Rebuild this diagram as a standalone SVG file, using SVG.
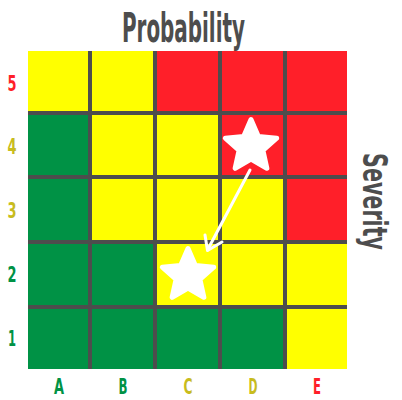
<svg xmlns="http://www.w3.org/2000/svg" width="402" height="400" viewBox="0 0 402 400">
<style>
.g{fill:#009245}.y{fill:#ffff00}.r{fill:#ff1f29}
.grid line{stroke:#4d4d4d;stroke-width:4}
.lbl{font-family:"DejaVu Sans Condensed","DejaVu Sans",sans-serif;font-weight:bold;font-size:22px;text-anchor:middle}
.ttl{font-family:"DejaVu Sans Condensed","DejaVu Sans",sans-serif;font-weight:bold;fill:#4d4d4d}
.tg{fill:#009245}.to{fill:#c8bc1e}.tr{fill:#ff1f29}
.star{fill:#fff;stroke:#fff;stroke-width:5;stroke-linejoin:round}
</style>
<defs>
<polygon id="star" class="star" points="0,-27 7.35,-10.11 25.68,-8.34 11.89,3.86 15.87,21.84 0,12.5 -15.87,21.84 -11.89,3.86 -25.68,-8.34 -7.35,-10.11"/>
</defs>
<rect width="402" height="400" fill="#fff"/>
<g id="matrix">
<g id="row5">
<rect class="y" x="28" y="51" width="62" height="62"/>
<rect class="y" x="90" y="51" width="65" height="62"/>
<rect class="r" x="155" y="51" width="65" height="62"/>
<rect class="r" x="220" y="51" width="65" height="62"/>
<rect class="r" x="285" y="51" width="62" height="62"/>
</g>
<g id="row4">
<rect class="g" x="28" y="113" width="62" height="64"/>
<rect class="y" x="90" y="113" width="65" height="64"/>
<rect class="y" x="155" y="113" width="65" height="64"/>
<rect class="r" x="220" y="113" width="65" height="64"/>
<rect class="r" x="285" y="113" width="62" height="64"/>
</g>
<g id="row3">
<rect class="g" x="28" y="177" width="62" height="65"/>
<rect class="y" x="90" y="177" width="65" height="65"/>
<rect class="y" x="155" y="177" width="65" height="65"/>
<rect class="y" x="220" y="177" width="65" height="65"/>
<rect class="r" x="285" y="177" width="62" height="65"/>
</g>
<g id="row2">
<rect class="g" x="28" y="242" width="62" height="65"/>
<rect class="g" x="90" y="242" width="65" height="65"/>
<rect class="y" x="155" y="242" width="65" height="65"/>
<rect class="y" x="220" y="242" width="65" height="65"/>
<rect class="y" x="285" y="242" width="62" height="65"/>
</g>
<g id="row1">
<rect class="g" x="28" y="307" width="62" height="62"/>
<rect class="g" x="90" y="307" width="65" height="62"/>
<rect class="g" x="155" y="307" width="65" height="62"/>
<rect class="g" x="220" y="307" width="65" height="62"/>
<rect class="y" x="285" y="307" width="62" height="62"/>
</g>
<g class="grid">
<line x1="90" y1="51" x2="90" y2="369"/>
<line x1="155" y1="51" x2="155" y2="369"/>
<line x1="220" y1="51" x2="220" y2="369"/>
<line x1="285" y1="51" x2="285" y2="369"/>
<line x1="28" y1="113" x2="347" y2="113"/>
<line x1="28" y1="177" x2="347" y2="177"/>
<line x1="28" y1="242" x2="347" y2="242"/>
<line x1="28" y1="307" x2="347" y2="307"/>
</g>
</g>
<g id="star-current"><use href="#star" x="251" y="146.5"/></g>
<g id="star-target"><use href="#star" x="188" y="275.5"/></g>
<g id="connectors">
<line x1="250" y1="170" x2="207.5" y2="250" stroke="#fff" stroke-width="3" stroke-linecap="round"/>
<polyline points="205,235 207.5,250.5 222,242" fill="none" stroke="#fff" stroke-width="3" stroke-linecap="round" stroke-linejoin="round"/>
</g>
<g id="titles">
<text class="ttl" x="122" y="41.5" font-size="41" textLength="123" lengthAdjust="spacingAndGlyphs">Probability</text>
<text class="ttl" transform="translate(363,153) rotate(90)" font-size="33" textLength="97" lengthAdjust="spacingAndGlyphs">Severity</text>
</g>
<g id="row-labels">
<text class="lbl tr" x="12" y="91" textLength="9" lengthAdjust="spacingAndGlyphs">5</text>
<text class="lbl to" x="12" y="154" textLength="9" lengthAdjust="spacingAndGlyphs">4</text>
<text class="lbl to" x="12" y="218" textLength="9" lengthAdjust="spacingAndGlyphs">3</text>
<text class="lbl tg" x="12" y="282" textLength="9" lengthAdjust="spacingAndGlyphs">2</text>
<text class="lbl tg" x="12" y="346" textLength="8" lengthAdjust="spacingAndGlyphs">1</text>
</g>
<g id="col-labels">
<text class="lbl tg" x="59" y="394" textLength="10" lengthAdjust="spacingAndGlyphs">A</text>
<text class="lbl tg" x="123" y="394" textLength="9" lengthAdjust="spacingAndGlyphs">B</text>
<text class="lbl to" x="188" y="394" textLength="9" lengthAdjust="spacingAndGlyphs">C</text>
<text class="lbl to" x="253" y="394" textLength="9" lengthAdjust="spacingAndGlyphs">D</text>
<text class="lbl tr" x="317" y="394" textLength="8" lengthAdjust="spacingAndGlyphs">E</text>
</g>
</svg>
